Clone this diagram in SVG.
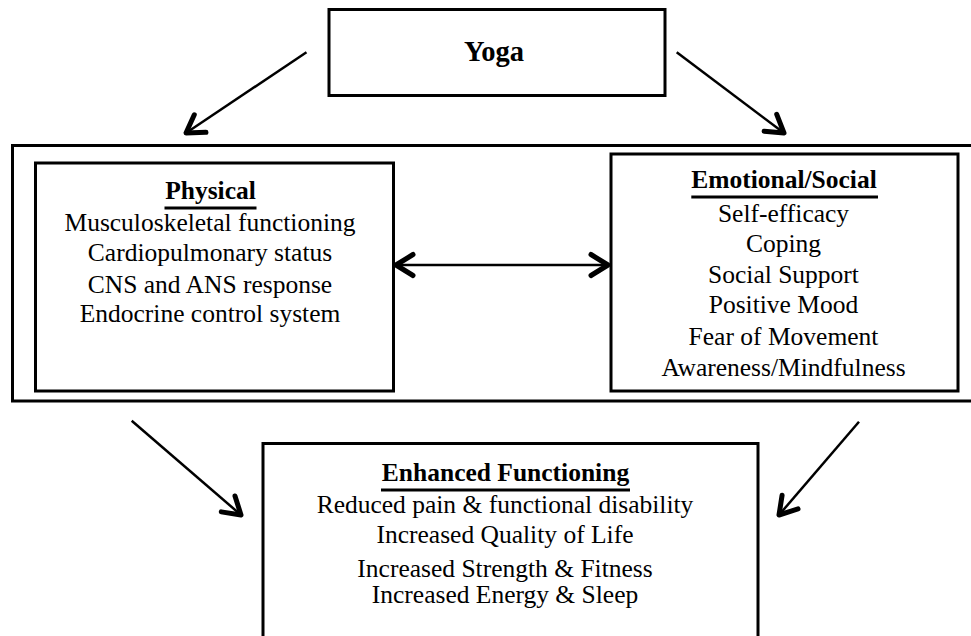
<svg xmlns="http://www.w3.org/2000/svg" width="971" height="636" viewBox="0 0 971 636">
  <style>
    .box { fill: none; stroke: #000; stroke-width: 3; }
    .t { font-family: "Liberation Serif", "Times New Roman", serif; font-size: 25.5px; fill: #000; text-anchor: middle; }
    .b { font-weight: bold; }
    .ul { stroke: #000; stroke-width: 3; }
    .conn { stroke: #000; stroke-width: 2.5; fill: none; }
  </style>
  <defs>
    <marker id="ah" markerUnits="userSpaceOnUse" markerWidth="30" markerHeight="30" viewBox="-25 -15 30 30" refX="0" refY="0" orient="auto-start-reverse">
      <path d="M -17 -10.5 L 0 0 L -17 10.5" fill="none" stroke="#000" stroke-width="5" stroke-linecap="round" stroke-linejoin="round"/>
    </marker>
  </defs>
  <rect width="971" height="636" fill="#fff"/>

  <g id="yoga">
    <rect class="box" x="329" y="9.5" width="336" height="86"/>
    <text class="t b" x="494" y="61" style="font-size:28.5px">Yoga</text>
  </g>

  <g id="container">
    <rect class="box" x="12.5" y="145.5" width="975" height="255.5"/>
  </g>

  <g id="physical">
    <rect class="box" x="35.5" y="163" width="358" height="228"/>
    <text class="t b" x="210.5" y="199">Physical</text>
    <line class="ul" x1="164.5" y1="208" x2="256.5" y2="208"/>
    <text class="t" x="210" y="230.5">Musculoskeletal functioning</text>
    <text class="t" x="210" y="260.7">Cardiopulmonary status</text>
    <text class="t" x="210" y="292.7">CNS and ANS response</text>
    <text class="t" x="210" y="321.7">Endocrine control system</text>
  </g>

  <g id="emotional">
    <rect class="box" x="611" y="154" width="347" height="237"/>
    <text class="t b" x="784" y="188.3">Emotional/Social</text>
    <line class="ul" x1="691.3" y1="197" x2="878" y2="197"/>
    <text class="t" x="783.5" y="221.5">Self-efficacy</text>
    <text class="t" x="783.5" y="252">Coping</text>
    <text class="t" x="783.5" y="282.7">Social Support</text>
    <text class="t" x="783.5" y="313.3">Positive Mood</text>
    <text class="t" x="783.5" y="345">Fear of Movement</text>
    <text class="t" x="783.5" y="375.7">Awareness/Mindfulness</text>
  </g>

  <g id="enhanced">
    <rect class="box" x="263" y="443.5" width="495" height="220"/>
    <text class="t b" x="505.5" y="480.7">Enhanced Functioning</text>
    <line class="ul" x1="381" y1="490" x2="630" y2="490"/>
    <text class="t" x="505" y="513.3">Reduced pain &amp; functional disability</text>
    <text class="t" x="505" y="542.7">Increased Quality of Life</text>
    <text class="t" x="505" y="576.7">Increased Strength &amp; Fitness</text>
    <text class="t" x="505" y="603.3">Increased Energy &amp; Sleep</text>
  </g>

  <g id="connectors">
    <line class="conn" x1="306.5" y1="52.3" x2="186" y2="133" marker-end="url(#ah)"/>
    <line class="conn" x1="676.7" y1="52.3" x2="784" y2="133" marker-end="url(#ah)"/>
    <line class="conn" x1="396" y1="265" x2="608" y2="265" marker-start="url(#ah)" marker-end="url(#ah)"/>
    <line class="conn" x1="131.7" y1="420.7" x2="241" y2="515" marker-end="url(#ah)"/>
    <line class="conn" x1="859" y1="421.7" x2="779" y2="515" marker-end="url(#ah)"/>
  </g>
</svg>
